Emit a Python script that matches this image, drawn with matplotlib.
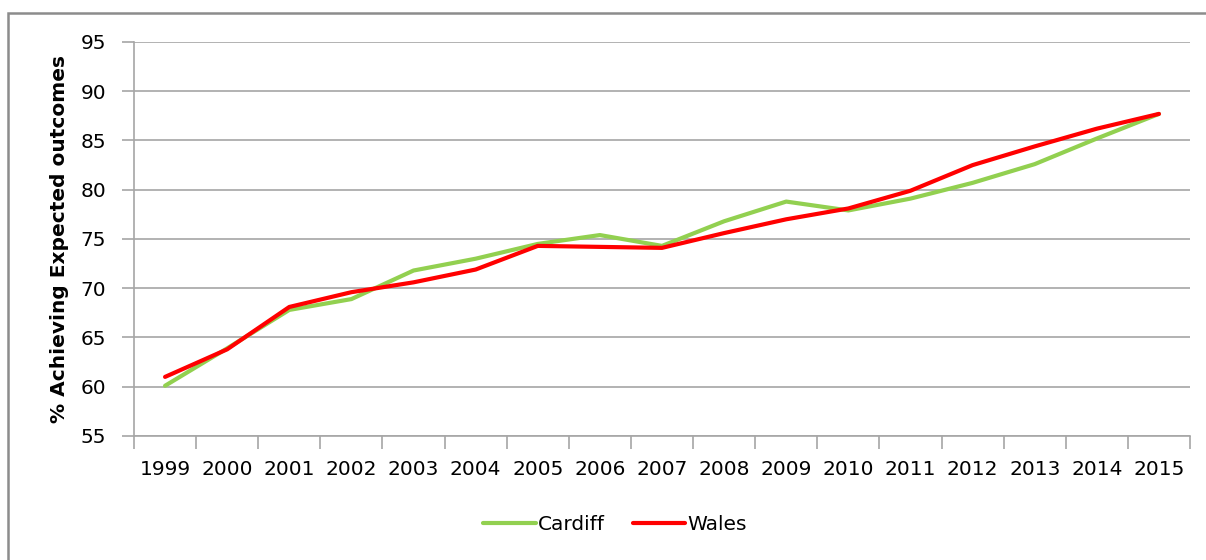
import matplotlib
matplotlib.use("Agg")
import matplotlib.pyplot as plt
from matplotlib.patches import Rectangle
from matplotlib.ticker import FixedLocator

# ── DATA ────────────────────────────────────────────────────
years = ["1999", "2000", "2001", "2002", "2003", "2004", "2005", "2006", "2007",
         "2008", "2009", "2010", "2011", "2012", "2013", "2014", "2015"]
cardiff = [60.1, 63.9, 67.8, 68.9, 71.8, 73.0, 74.5, 75.4, 74.3,
           76.8, 78.8, 77.9, 79.1, 80.7, 82.6, 85.2, 87.7]
wales = [61.0, 63.8, 68.1, 69.6, 70.6, 71.9, 74.3, 74.2, 74.1,
         75.6, 77.0, 78.1, 79.9, 82.5, 84.4, 86.2, 87.7]

GREEN = "#92D050"
RED = "#FF0000"
GRID = "#A6A6A6"

plt.rcParams["font.family"] = ["DejaVu Sans"]

fig = plt.figure(figsize=(12.06, 5.6), dpi=100)
ax = fig.add_axes([134 / 1206, 1 - 436 / 560, (1190 - 134) / 1206, (436 - 42) / 560])

# outer chart frame (runs off the right/bottom edge like the reference)
fig.patches.append(Rectangle((8 / 1206, -0.05), 1.1, 1 - 13 / 560 + 0.05,
                             transform=fig.transFigure, fill=False,
                             edgecolor="#8C8C8C", linewidth=1.8))

x = list(range(len(years)))
ax.plot(x, cardiff, color=GREEN, linewidth=3.0, label="Cardiff", solid_capstyle="round")
ax.plot(x, wales, color=RED, linewidth=3.0, label="Wales", solid_capstyle="round")

ax.set_xlim(-0.5, len(years) - 0.5)
ax.set_ylim(55, 95)
ax.set_yticks(range(55, 96, 5))
ax.yaxis.grid(True, color=GRID, linewidth=1.2)
ax.set_axisbelow(True)

ax.set_xticks(x)
ax.set_xticklabels(years, fontsize=14.5)
ax.xaxis.set_minor_locator(FixedLocator([i - 0.5 for i in range(len(years) + 1)]))
ax.tick_params(axis="x", which="major", length=0, pad=17)
ax.tick_params(axis="x", which="minor", length=9, width=1.2, color=GRID, direction="out")
ax.tick_params(axis="y", length=9, width=1.2, color=GRID, direction="out",
               labelsize=14.5, pad=11)

for s in ["top", "right"]:
    ax.spines[s].set_visible(False)
for s in ["left", "bottom"]:
    ax.spines[s].set_color(GRID)
    ax.spines[s].set_linewidth(1.2)

ax.set_ylabel("% Achieving Expected outcomes", fontsize=14.5, fontweight="bold", labelpad=8)

fig.legend(loc="center", bbox_to_anchor=(0.51, 1 - 525 / 560), ncol=2, frameon=False,
           fontsize=14.5, handlelength=2.6, handletextpad=0.1, columnspacing=1.4)

fig.savefig("out.png", dpi=100, facecolor="white")
